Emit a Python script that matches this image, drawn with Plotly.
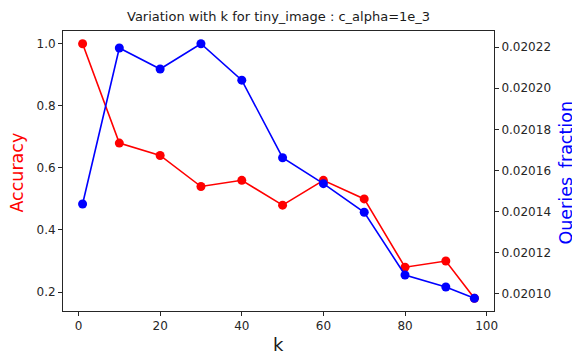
import plotly.graph_objects as go

k_values = [1, 10, 20, 30, 40, 50, 60, 70, 80, 90, 97]
accuracy = [1.00, 0.68, 0.64, 0.54, 0.56, 0.48, 0.56, 0.50, 0.28, 0.30, 0.18]
queries_fraction = [0.0201437, 0.0202195, 0.0202093, 0.0202216, 0.0202039, 0.0201662,
                    0.0201536, 0.0201397, 0.0201092, 0.0201034, 0.0200979]
acc_ticks = [0.2, 0.4, 0.6, 0.8, 1.0]
qf_ticks = [0.02010, 0.02012, 0.02014, 0.02016, 0.02018, 0.02020, 0.02022]
x_ticks = [0, 20, 40, 60, 80, 100]

def pad(vals, m=0.05):
    lo, hi = min(vals), max(vals)
    d = (hi - lo) * m
    return [lo - d, hi + d]

FONT = "DejaVu Sans"
fig = go.Figure()
fig.add_trace(go.Scatter(x=k_values, y=accuracy, mode="lines+markers",
                         line=dict(color="#ff0000", width=1.6),
                         marker=dict(color="#ff0000", size=9), yaxis="y"))
fig.add_trace(go.Scatter(x=k_values, y=queries_fraction, mode="lines+markers",
                         line=dict(color="#0000ff", width=1.6),
                         marker=dict(color="#0000ff", size=9), yaxis="y2"))

tickfont = dict(family=FONT, size=12, color="#262626")
# page body has an 8px default margin, so the figure is offset by 8px
fig.update_layout(
    width=572, height=346,
    margin=dict(l=55, r=86, t=23, b=43, autoexpand=False),
    paper_bgcolor="white", plot_bgcolor="white",
    showlegend=False,
    font=dict(family=FONT, color="#262626"),
    xaxis=dict(range=pad(k_values), tickvals=x_ticks, ticks="outside", ticklen=4,
               tickcolor="#262626", showgrid=False, zeroline=False,
               showline=True, linecolor="#262626", linewidth=1, mirror=True,
               tickfont=tickfont, automargin=False),
    yaxis=dict(range=pad(accuracy), tickvals=acc_ticks, tickformat=".1f",
               ticks="outside", ticklen=4, tickcolor="#262626", showgrid=False,
               zeroline=False, showline=True, linecolor="#262626", linewidth=1,
               mirror=True, tickfont=tickfont, automargin=False),
    yaxis2=dict(range=pad(queries_fraction), tickvals=qf_ticks, tickformat=".5f",
                overlaying="y", side="right", ticks="outside", ticklen=4,
                tickcolor="#262626", showgrid=False, zeroline=False, automargin=False,
                showline=True, linecolor="#262626", linewidth=1, tickfont=tickfont),
)
ann = dict(xref="paper", yref="paper", showarrow=False, xanchor="center", yanchor="middle")
fig.add_annotation(text="Variation with k for tiny_image : c_alpha=1e_3", x=0.5, y=1.05,
                   font=dict(family=FONT, size=13, color="#1a1a1a"), **ann)
fig.add_annotation(text="k", x=0.5, y=-0.121,
                   font=dict(family=FONT, size=18, color="#1a1a1a"), **ann)
fig.add_annotation(text="Accuracy", x=-0.1056, y=0.496, textangle=-90,
                   font=dict(family=FONT, size=17.5, color="#ff0000"), **ann)
fig.add_annotation(text="Queries_fraction", x=1.168, y=0.496, textangle=-90,
                   font=dict(family=FONT, size=17.5, color="#0000ff"), **ann)
fig.write_html("out.html")
